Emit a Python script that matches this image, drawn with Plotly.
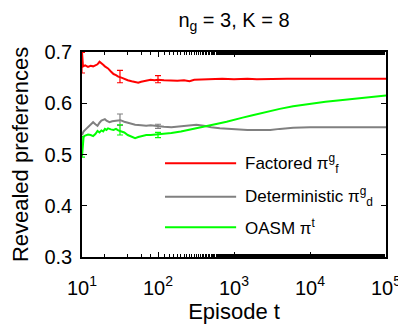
import plotly.graph_objects as go

# ---------------- data ----------------
red_t = [10, 10.3, 11, 12, 13, 14, 15, 16, 17, 18, 19, 20, 22, 24, 26, 28, 30, 33, 36, 40,
         45, 50, 55, 60, 65, 70, 80, 90, 100, 120, 150, 180, 220, 260, 300, 400, 500, 700,
         1000, 1500, 2000, 3000, 5000, 1e4, 2e4, 5e4, 1e5]
red_v = [0.700, 0.672, 0.674, 0.671, 0.673, 0.672, 0.674, 0.676, 0.681, 0.677, 0.675, 0.672,
         0.668, 0.662, 0.657, 0.655, 0.652, 0.650, 0.647, 0.645, 0.643, 0.641, 0.640, 0.642,
         0.643, 0.644, 0.646, 0.645, 0.646, 0.645, 0.644, 0.644, 0.645, 0.643, 0.646, 0.647,
         0.648, 0.648, 0.647, 0.648, 0.647, 0.648, 0.648, 0.648, 0.648, 0.648, 0.648]

gray_t = [10, 10.5, 11, 12, 13, 14, 15, 16, 17, 18, 20, 21, 23, 25, 28, 32, 36, 40, 45, 50,
          60, 70, 80, 100, 120, 150, 180, 220, 260, 320, 400, 500, 650, 800, 1000, 1500,
          2000, 3000, 4000, 6000, 1e4, 2e4, 5e4, 1e5]
gray_v = [0.538, 0.545, 0.548, 0.554, 0.558, 0.563, 0.559, 0.556, 0.562, 0.566, 0.569, 0.566,
          0.563, 0.565, 0.566, 0.567, 0.564, 0.562, 0.559, 0.558, 0.557, 0.556, 0.557, 0.555,
          0.554, 0.553, 0.554, 0.555, 0.557, 0.558, 0.556, 0.553, 0.551, 0.550, 0.549, 0.548,
          0.548, 0.548, 0.550, 0.552, 0.553, 0.553, 0.553, 0.553]

green_t = [10, 10.2, 10.5, 11, 12, 13, 14, 15, 16, 17, 18, 19, 20, 21, 22, 24, 26, 28, 30, 33,
           36, 40, 45, 50, 55, 60, 70, 80, 100, 120, 150, 200, 250, 300, 400, 500, 650, 800,
           1000, 1300, 1700, 2200, 3000, 4000, 6000, 8000, 1e4, 1.6e4, 2.5e4, 4.5e4, 7e4, 1e5]
green_v = [0.496, 0.525, 0.535, 0.537, 0.539, 0.538, 0.536, 0.540, 0.546, 0.543, 0.547, 0.545,
           0.550, 0.548, 0.551, 0.549, 0.548, 0.550, 0.547, 0.545, 0.543, 0.538, 0.534, 0.532,
           0.534, 0.536, 0.538, 0.538, 0.539, 0.540, 0.542, 0.545, 0.548, 0.550, 0.553, 0.557,
           0.561, 0.564, 0.567, 0.572, 0.576, 0.580, 0.585, 0.589, 0.594, 0.597, 0.599, 0.603,
           0.606, 0.610, 0.613, 0.615]

# error bars
red_err_t = [10, 31.6, 100]
red_err_v = [0.679, 0.652, 0.647]
red_err_e = [0.020, 0.012, 0.007]
gray_err_t = [31.6, 100]
gray_err_v = [0.568, 0.555]
gray_err_e = [0.011, 0.004]
green_err_t = [10, 31.6, 100]
green_err_v = [0.515, 0.548, 0.538]
green_err_e = [0.020, 0.010, 0.005]

x_tickvals = [10, 100, 1000, 10000, 100000]
x_ticktext = ["10<sup>1</sup>", "10<sup>2</sup>", "10<sup>3</sup>", "10<sup>4</sup>", "10<sup>5</sup>"]
y_tickvals = [0.3, 0.4, 0.5, 0.6, 0.7]

series_names = ["Factored π<sup>g</sup><sub>f</sub>",
                "Deterministic π<sup>g</sup><sub>d</sub>",
                "OASM π<sup>t</sup>"]
colors = ["#ff0000", "#808080", "#00ff00"]

FONT = "Liberation Sans, Arial, Helvetica, sans-serif"

fig = go.Figure()
for t, v, c, n in [(red_t, red_v, colors[0], series_names[0]),
                   (gray_t, gray_v, colors[1], series_names[1]),
                   (green_t, green_v, colors[2], series_names[2])]:
    fig.add_trace(go.Scatter(x=t, y=v, mode="lines", line=dict(color=c, width=2),
                             name=n, showlegend=False))

for t, v, e, c in [(red_err_t, red_err_v, red_err_e, colors[0]),
                   (gray_err_t, gray_err_v, gray_err_e, colors[1]),
                   (green_err_t, green_err_v, green_err_e, colors[2])]:
    fig.add_trace(go.Scatter(x=t, y=v, mode="markers", marker=dict(size=0.1, color=c),
                             error_y=dict(type="data", array=e, color=c, thickness=1.2, width=3),
                             showlegend=False, hoverinfo="skip"))

# custom legend (lines + text) inside the plot area
leg_y = [0.457, 0.294, 0.145]
shapes = []
annotations = []
for name, c, yy in zip(series_names, colors, leg_y):
    shapes.append(dict(type="line", xref="paper", yref="paper", x0=0.273, x1=0.507,
                       y0=yy, y1=yy, line=dict(color=c, width=2)))
    annotations.append(dict(xref="paper", yref="paper", x=0.528, y=yy, text=name,
                            showarrow=False, xanchor="left", yanchor="middle",
                            font=dict(size=17, color="black", family=FONT)))

# page body has an 8px margin: figure is sized/offset to compensate
fig.update_layout(
    width=398, height=316,
    margin=dict(l=74, r=20, t=44, b=67),
    paper_bgcolor="white", plot_bgcolor="white",
    font=dict(family=FONT, color="black", size=20),
    title=dict(text="n<sub>g</sub> = 3, K = 8", xref="paper", x=0.5, xanchor="center",
               y=0.962, yanchor="middle", font=dict(size=20)),
    shapes=shapes, annotations=annotations,
    showlegend=False,
)
fig.update_xaxes(type="log", range=[1, 5], tickvals=x_tickvals, ticktext=x_ticktext,
                 ticks="inside", ticklen=5, tickcolor="black", tickwidth=1,
                 showline=True, linecolor="black", linewidth=1.5, mirror="ticks",
                 showgrid=False, zeroline=False, automargin=False,
                 minor=dict(ticks="inside", ticklen=3, tickcolor="black", showgrid=False),
                 tickfont=dict(size=20), ticklabelstandoff=12,
                 title=dict(text="Episode t", font=dict(size=22), standoff=4))
fig.update_yaxes(range=[0.3, 0.7], tickvals=y_tickvals, tickformat=".1f",
                 ticks="inside", ticklen=5, tickcolor="black", tickwidth=1,
                 showline=True, linecolor="black", linewidth=1.5, mirror="ticks",
                 showgrid=False, zeroline=False, tickfont=dict(size=20), automargin=False,
                 ticklabelstandoff=4,
                 title=dict(text="Revealed preferences", font=dict(size=22), standoff=14))

fig.write_html("out.html")
